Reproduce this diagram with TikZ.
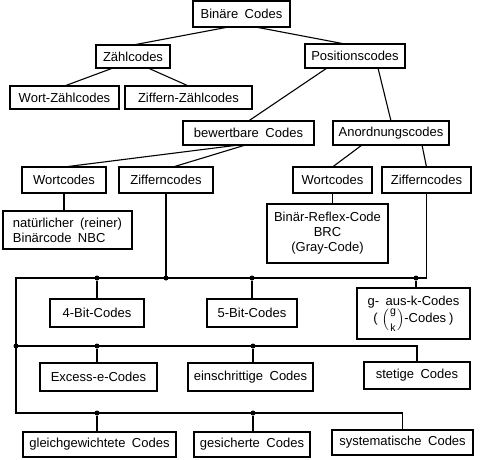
\documentclass[tikz,border=0pt]{standalone}
\usepackage{amsmath}
\usepackage{fontspec}
\setmainfont{Liberation Sans}[WordSpace={1.8,1,1}]
\usetikzlibrary{positioning,calc}
\newcommand\binomtext[1]{\text{\fontsize{10.5}{11}\selectfont #1}}

\begin{document}
\begin{tikzpicture}[
  x=1pt, y=-1pt,
  every node/.style={font=\fontsize{13}{15}\selectfont, text=black},
  codebox/.style 2 args={
    draw=black, line width=1.3pt, fill=white,
    minimum width=#1pt, minimum height=#2pt,
    inner sep=0pt, outer sep=0pt, align=center,
  },
  link/.style={line width=1.1pt, black},
  joint/.style={circle, fill=black, inner sep=0pt, minimum size=5pt},
]
\useasboundingbox (0,0) rectangle (480,459);

% ── Upper tree ──
\node[codebox={97}{26}]  (binaer) at (241.5,14)  {Binäre Codes};
\node[codebox={74}{23}]  (zaehl)  at (133,56.5)  {Zählcodes};
\node[codebox={100}{24}] (pos)    at (355,56)    {Positionscodes};
\node[codebox={109}{23}] (wortz)  at (64.5,97.5) {Wort-Zählcodes};
\node[codebox={127}{23}] (zifz)   at (188.5,97.5) {Ziffern-Zählcodes};
\node[codebox={131}{24}] (bewert) at (248.5,133) {bewertbare Codes};
\node[codebox={116}{24}] (anord)  at (391,133)   {Anordnungscodes};

% ── Wort-/Ziffern codes ──
\node[codebox={84}{26}]  (wortL)  at (64,180)    {Wortcodes};
\node[codebox={94}{26}]  (zifL)   at (166,180)   {Zifferncodes};
\node[codebox={79}{26}]  (wortR)  at (332.5,180) {Wortcodes};
\node[codebox={89}{26}]  (zifR)   at (426.5,180) {Zifferncodes};
\node[codebox={129}{38}, align=left] (nbc) at (67.5,230)
      {natürlicher (reiner)\\Binärcode NBC};
\node[codebox={121}{59}] (brc)    at (327.5,233.5)
      {Binär-Reflex-Code\\BRC\\(Gray-Code)};

% ── Code families ──
\node[codebox={94}{28}]  (bit4)   at (97,313)    {4-Bit-Codes};
\node[codebox={90}{28}]  (bit5)   at (252,313)   {5-Bit-Codes};
\node[codebox={113}{51}] (gausk)  at (413.5,313.5)
      {g- aus-k-Codes\\[0pt](\hspace{4pt}$\left(\genfrac{}{}{0pt}{0}{\binomtext{g}}{\binomtext{k}}\right)$-Codes\hspace{3pt})};
\node[codebox={117}{28}] (excess) at (98.5,377)  {Excess-e-Codes};
\node[codebox={125}{28}] (einschr) at (250.5,377) {einschrittige Codes};
\node[codebox={106}{27}] (stetig) at (417,375.5) {stetige Codes};
\node[codebox={153}{25}] (gleich) at (99.5,444.5) {gleichgewichtete Codes};
\node[codebox={116}{25}] (gesich) at (252,444.5) {gesicherte Codes};
\node[codebox={141}{25}] (system) at (402.5,442.5) {systematische Codes};

% ── Tree links ──
\draw[link] ([xshift=-13pt]binaer.south) -- (zaehl.north);
\draw[link] ([xshift=14pt]binaer.south) -- ([xshift=-10pt]pos.north);
\draw[link] ([xshift=-20pt]zaehl.south) -- (wortz.north);
\draw[link] ([xshift=15pt]zaehl.south) -- (zifz.north);
\draw[link] ([xshift=-28pt]pos.south) -- (bewert.north);
\draw[link] ([xshift=23pt]pos.south) -- (anord.north);
\draw[link] ([xshift=-10pt]bewert.south) -- (wortL.north);
\draw[link] ([xshift=-3pt]bewert.south) -- ([xshift=7pt]zifL.north);
\draw[link] ([xshift=-29pt]anord.south) -- (wortR.north);
\draw[link] ([xshift=31pt]anord.south) -- (zifR.north);
\draw[link] (wortL.south) -- (wortL.south |- nbc.north);
\draw[link] (wortR.south) -- (wortR.south |- brc.north);

% ── Bus lines ──
\coordinate (busA) at (16,278);
\coordinate (busB) at (16,346);
\coordinate (busC) at (16,413);

\draw[link] (zifR.south) |- (busA) -- (busC) -| (system.north);
\draw[link] (busB) -| (stetig.north);
\draw[link] (zifL.south) -- (zifL.south |- busA);

% first bus
\node[joint] (jA1) at (97,278) {};
\node[joint] (jA2) at (zifL.south |- busA) {};
\node[joint] (jA3) at (252,278) {};
\node[joint] (jA4) at (416,278) {};
\draw[link] (jA1) -- (jA1 |- bit4.north);
\draw[link] (jA3) -- (jA3 |- bit5.north);
\draw[link] (jA4) -- (jA4 |- gausk.north);

% second bus
\node[joint] (jB0) at (busB) {};
\node[joint] (jB1) at (97,346) {};
\node[joint] (jB2) at (253,346) {};
\draw[link] (jB1) -- (jB1 |- excess.north);
\draw[link] (jB2) -- (jB2 |- einschr.north);

% third bus
\node[joint] (jC1) at (97,413) {};
\node[joint] (jC2) at (253,413) {};
\draw[link] (jC1) -- (jC1 |- gleich.north);
\draw[link] (jC2) -- (jC2 |- gesich.north);

\end{tikzpicture}
\end{document}
